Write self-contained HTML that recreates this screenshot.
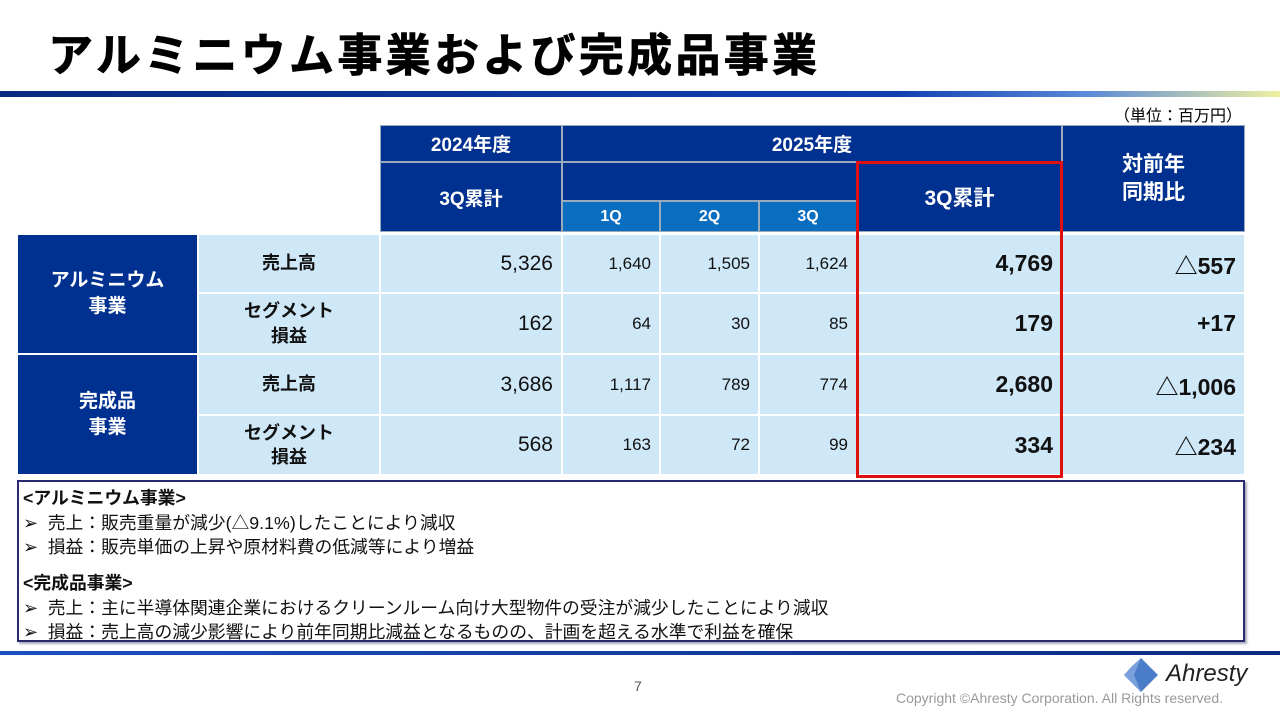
<!DOCTYPE html>
<html><head><meta charset="utf-8"><style>
body{margin:0;width:1280px;height:720px;background:#fff;position:relative;overflow:hidden;font-family:"Liberation Sans","Noto Sans CJK JP",sans-serif}
.a{position:absolute;box-sizing:border-box;display:flex;align-items:center;justify-content:center}
.h{background:#003090;color:#fff;font-weight:bold;font-size:19px;border:1px solid #9ab}
.q{background:#0a6ec0;color:#fff;font-weight:bold;font-size:16px;border:1px solid #9ab}
.c{background:#cfe8f8;border:1px solid #fff;color:#111;font-size:21px}
.r{justify-content:flex-end;padding-right:8px}
.s{font-size:17px}
.b{font-weight:bold;font-size:23px}
.l{background:#003090;color:#fff;font-weight:bold;font-size:19px;text-align:center;border:1px solid #fff;line-height:1.35}
.lab{font-weight:bold;font-size:18px;text-align:center;line-height:1.35}
.n{position:absolute;left:22px;font-size:17.8px;color:#111;white-space:nowrap}
</style></head><body>
<div style="position:absolute;left:48px;top:19px;font-size:45px;font-weight:bold;color:#000;letter-spacing:3.3px;-webkit-text-stroke:0.8px #000">アルミニウム事業および完成品事業</div>
<div style="position:absolute;left:0;top:91px;width:1280px;height:6px;background:linear-gradient(90deg,#0a2a80 0%,#1040b0 70%,#5a8ad8 85%,#f0f0a0 100%)"></div>
<div style="position:absolute;right:38px;top:102px;font-size:16px">（単位：百万円）</div>

<div class="a h" style="left:380px;top:125px;width:182px;height:37px">2024年度</div>
<div class="a h" style="left:380px;top:162px;width:182px;height:70px">3Q累計</div>
<div class="a h" style="left:562px;top:125px;width:500px;height:37px">2025年度</div>
<div class="a h" style="left:562px;top:162px;width:295px;height:39px"></div>
<div class="a q" style="left:562px;top:201px;width:98px;height:31px">1Q</div>
<div class="a q" style="left:660px;top:201px;width:99px;height:31px">2Q</div>
<div class="a q" style="left:759px;top:201px;width:98px;height:31px">3Q</div>
<div class="a h" style="left:857px;top:162px;width:205px;height:70px;font-size:21px">3Q累計</div>
<div class="a h" style="left:1062px;top:125px;width:183px;height:107px;font-size:21px;text-align:center;line-height:1.3">対前年<br>同期比</div>

<div class="a l" style="left:17px;top:234px;width:181px;height:120px">アルミニウム<br>事業</div>
<div class="a l" style="left:17px;top:354px;width:181px;height:121px">完成品<br>事業</div>

<div id="rows"></div>
<div style="position:absolute;left:856px;top:161px;width:207px;height:317px;border:3px solid #e01010;box-sizing:border-box"></div>

<div style="position:absolute;left:17px;top:480px;width:1228px;height:162px;border:2px solid #2a2a70;box-sizing:border-box;box-shadow:2px 2px 2px #aab">
<div class="n" style="left:4px;top:2px;font-weight:bold">&lt;アルミニウム事業&gt;</div>
<div class="n" style="left:4px;top:27px">➢&nbsp;&nbsp;売上：販売重量が減少(△9.1%)したことにより減収</div>
<div class="n" style="left:4px;top:51px">➢&nbsp;&nbsp;損益：販売単価の上昇や原材料費の低減等により増益</div>
<div class="n" style="left:4px;top:87px;font-weight:bold">&lt;完成品事業&gt;</div>
<div class="n" style="left:4px;top:112px">➢&nbsp;&nbsp;売上：主に半導体関連企業におけるクリーンルーム向け大型物件の受注が減少したことにより減収</div>
<div class="n" style="left:4px;top:136px">➢&nbsp;&nbsp;損益：売上高の減少影響により前年同期比減益となるものの、計画を超える水準で利益を確保</div>
</div>

<div style="position:absolute;left:0;top:651px;width:1280px;height:4px;background:linear-gradient(90deg,#1a50c0,#0a2a80)"></div>
<div style="position:absolute;left:634px;top:678px;font-size:14px;color:#555">7</div>
<svg style="position:absolute;left:1122px;top:656px" width="38" height="38"><polygon points="19,2 36,19 19,36 2,19" fill="#4a7cc8"/><polygon points="10,10 19,2 12,19 19,36 2,19" fill="#7aa0dc"/></svg>
<div style="position:absolute;left:1166px;top:660px;font-size:24px;font-style:italic;color:#222">Ahresty</div>
<div style="position:absolute;left:896px;top:690px;font-size:14px;color:#999;white-space:nowrap">Copyright ©Ahresty Corporation. All Rights reserved.</div>

<script>
const labels=['売上高','セグメント<br>損益','売上高','セグメント<br>損益'];
const prev=['5,326','162','3,686','568'];
const q1=['1,640','64','1,117','163'];
const q2=['1,505','30','789','72'];
const q3=['1,624','85','774','99'];
const cum=['4,769','179','2,680','334'];
const yoy=['△557','+17','△1,006','△234'];
const tops=[234,293,354,415],hs=[59,61,61,60];
const root=document.getElementById('rows');
function cell(x,w,i,cls,txt,name){
 const d=document.createElement('div');
 d.className='a c '+cls;
 d.style.cssText='left:'+x+'px;top:'+tops[i]+'px;width:'+w+'px;height:'+hs[i]+'px';
 d.innerHTML=txt;
 
 
 root.appendChild(d);
}
for(let i=0;i<4;i++){
 cell(198,182,i,'lab',labels[i],'row-label');
 cell(380,182,i,'r',prev[i],'value-2024-3q');
 cell(562,98,i,'r s',q1[i],'value-1q');
 cell(660,99,i,'r s',q2[i],'value-2q');
 cell(759,98,i,'r s',q3[i],'value-3q');
 cell(857,205,i,'r b',cum[i],'value-2025-3q');
 cell(1062,183,i,'r b',yoy[i],'value-yoy');
}
</script>
</body></html>
